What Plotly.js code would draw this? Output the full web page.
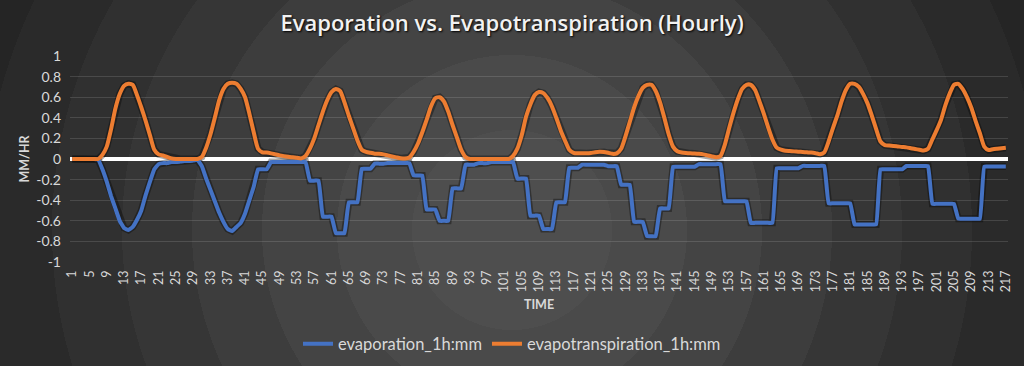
<!DOCTYPE html>
<html>
<head>
<meta charset="utf-8">
<script src="https://cdn.plot.ly/plotly-3.0.1.min.js"></script>
<style>
  html, body { margin: 0; padding: 0; background: #222; }
  #chart {
    width: 1024px; height: 366px;
    background: radial-gradient(circle at 512px 230px,
      #4e4e4e 0px, #4e4e4e 100px,
      #4a4a4a 100px, #4a4a4a 175px,
      #444444 175px, #444444 250px,
      #3d3d3d 250px, #3d3d3d 320px,
      #363636 320px, #363636 390px,
      #303030 390px, #303030 460px,
      #2a2a2a 460px, #2a2a2a 530px,
      #252525 530px, #252525 600px,
      #202020 600px);
  }
</style>
</head>
<body>
<div id="chart"></div>
<script>
// ---- Data (hourly, hours 1..217) ----
const evapotranspiration = [
  0,0,0,0,0,0,0,0.04,0.12,0.29,
  0.49,0.63,0.71,0.73,0.72,0.62,0.5,0.37,0.23,0.09,
  0.045,0.035,0.02,0.005,0,0,0,0,0,0,
  0.02,0.11,0.24,0.4,0.57,0.68,0.73,0.74,0.73,0.68,
  0.6,0.44,0.26,0.1,0.065,0.062,0.055,0.045,0.035,0.028,
  0.022,0.016,0.012,0.006,0.03,0.1,0.2,0.33,0.46,0.57,
  0.65,0.68,0.66,0.55,0.42,0.3,0.18,0.09,0.07,0.06,
  0.052,0.05,0.045,0.035,0.025,0.016,0.008,0.005,0.015,0.07,
  0.15,0.26,0.38,0.51,0.59,0.6,0.56,0.46,0.33,0.21,
  0.09,0.02,0,0,0,0,0,0,0,0,
  0,0,0.03,0.1,0.23,0.41,0.53,0.62,0.65,0.64,
  0.59,0.51,0.4,0.28,0.18,0.09,0.06,0.055,0.055,0.055,
  0.058,0.066,0.07,0.068,0.06,0.05,0.055,0.1,0.22,0.36,
  0.5,0.61,0.69,0.72,0.72,0.66,0.55,0.4,0.24,0.12,
  0.075,0.063,0.058,0.055,0.053,0.05,0.045,0.035,0.025,0.018,
  0.03,0.14,0.3,0.45,0.58,0.68,0.72,0.72,0.67,0.56,
  0.44,0.31,0.19,0.11,0.09,0.08,0.077,0.074,0.071,0.068,
  0.065,0.062,0.056,0.047,0.065,0.17,0.3,0.42,0.56,0.67,
  0.73,0.73,0.7,0.63,0.54,0.42,0.29,0.17,0.135,0.13,
  0.127,0.122,0.117,0.113,0.105,0.097,0.09,0.082,0.1,0.19,
  0.28,0.38,0.52,0.635,0.72,0.73,0.68,0.6,0.5,0.37,
  0.25,0.12,0.087,0.095,0.1,0.105,0.11
];
const evaporation = [
  0,0,0,0,0,0,-0.005,-0.1,-0.22,-0.36,
  -0.48,-0.6,-0.67,-0.69,-0.66,-0.59,-0.5,-0.35,-0.22,-0.1,
  -0.05,-0.04,-0.04,-0.03,-0.03,-0.025,-0.02,-0.02,-0.015,-0.01,
  -0.07,-0.19,-0.3,-0.41,-0.52,-0.61,-0.68,-0.7,-0.66,-0.62,
  -0.53,-0.4,-0.27,-0.1,-0.1,-0.1,-0.03,-0.03,-0.03,-0.03,
  -0.03,-0.03,-0.03,-0.03,-0.03,-0.21,-0.21,-0.21,-0.56,-0.56,
  -0.56,-0.72,-0.72,-0.72,-0.42,-0.42,-0.42,-0.095,-0.095,-0.095,
  -0.045,-0.045,-0.045,-0.04,-0.04,-0.04,-0.04,-0.04,-0.04,-0.16,
  -0.16,-0.16,-0.49,-0.49,-0.49,-0.6,-0.6,-0.6,-0.285,-0.285,
  -0.285,-0.055,-0.055,-0.055,-0.04,-0.04,-0.04,-0.03,-0.03,-0.03,
  -0.03,-0.03,-0.03,-0.19,-0.19,-0.19,-0.55,-0.55,-0.55,-0.68,
  -0.68,-0.68,-0.42,-0.42,-0.42,-0.085,-0.085,-0.085,-0.055,-0.055,
  -0.055,-0.055,-0.055,-0.055,-0.07,-0.07,-0.07,-0.25,-0.25,-0.25,
  -0.61,-0.61,-0.61,-0.75,-0.75,-0.75,-0.48,-0.48,-0.48,-0.075,
  -0.075,-0.075,-0.075,-0.075,-0.075,-0.05,-0.05,-0.05,-0.05,-0.05,
  -0.05,-0.41,-0.41,-0.41,-0.41,-0.41,-0.41,-0.62,-0.62,-0.62,
  -0.62,-0.62,-0.62,-0.09,-0.09,-0.09,-0.09,-0.09,-0.09,-0.067,
  -0.067,-0.067,-0.067,-0.067,-0.067,-0.43,-0.43,-0.43,-0.43,-0.43,
  -0.43,-0.635,-0.635,-0.635,-0.635,-0.635,-0.635,-0.1,-0.1,-0.1,
  -0.1,-0.1,-0.1,-0.068,-0.068,-0.068,-0.068,-0.068,-0.068,-0.435,
  -0.435,-0.435,-0.435,-0.435,-0.435,-0.58,-0.58,-0.58,-0.58,-0.58,
  -0.58,-0.074,-0.074,-0.074,-0.074,-0.074,-0.074
];
const hours = evaporation.map((_, i) => i + 1);
const xTickValues = hours.filter(h => (h - 1) % 4 === 0);
const xTickLabels = xTickValues.map(String);
const yTickValues = [1, 0.8, 0.6, 0.4, 0.2, 0, -0.2, -0.4, -0.6, -0.8, -1];
const yTickLabels = ["1", "0.8", "0.6", "0.4", "0.2", "0", "-0.2", "-0.4", "-0.6", "-0.8", "-1"];
const seriesNames = ["evaporation_1h:mm", "evapotranspiration_1h:mm"];
const chartTitle = "Evaporation vs. Evapotranspiration (Hourly)";
const xTitle = "TIME";
const yTitle = "MM/HR";

const textColor = "#d9d9d9";
const FONT = "Lato, 'Open Sans', sans-serif";

function shadow(y) {
  return { x: hours, y: y, type: "scatter", mode: "lines", showlegend: false, hoverinfo: "skip",
    line: { color: "rgba(0,0,0,0.35)", width: 7, shape: "linear" } };
}

const traces = [
  shadow(evaporation),
  shadow(evapotranspiration),
  { x: hours, y: evaporation, name: seriesNames[0], type: "scatter", mode: "lines",
    line: { color: "#4472C4", width: 4, shape: "spline", smoothing: 0.3 } },
  { x: hours, y: evapotranspiration, name: seriesNames[1], type: "scatter", mode: "lines",
    line: { color: "#ED7D31", width: 4, shape: "spline", smoothing: 0.6 } }
];

const layout = {
  width: 1024, height: 366,
  paper_bgcolor: "rgba(0,0,0,0)", plot_bgcolor: "rgba(0,0,0,0)",
  margin: { l: 70, r: 16, t: 56, b: 104 },
  font: { family: FONT, color: textColor },
  title: {
    text: chartTitle, x: 0.5, xanchor: "center", y: 0.935, yanchor: "middle",
    font: { family: "'Open Sans', sans-serif", size: 22, color: "#f2f2f2", weight: 600, shadow: "1px 1px 2px #000" }
  },
  xaxis: {
    range: [0.5, 217.5], tickmode: "array", tickvals: xTickValues, ticktext: xTickLabels,
    tickangle: -90, tickfont: { size: 12.5, color: textColor, family: FONT },
    ticklabelstandoff: 5,
    showgrid: false, zeroline: false, showline: false, ticks: "",
    title: { text: xTitle, font: { size: 12.5, color: textColor, weight: "bold", family: FONT }, standoff: 8 }
  },
  yaxis: {
    range: [-1, 1], tickmode: "array", tickvals: yTickValues, ticktext: yTickLabels,
    tickfont: { size: 14, color: textColor, family: FONT },
    ticklabelstandoff: 8,
    showgrid: true, gridcolor: "rgba(255,255,255,0.13)", gridwidth: 1,
    zeroline: true, zerolinecolor: "#ffffff", zerolinewidth: 4,
    showline: false, ticks: "",
    title: { text: yTitle, font: { size: 12.5, color: textColor, weight: "bold", family: FONT }, standoff: 3 }
  },
  showlegend: true,
  legend: {
    orientation: "h", xref: "container", yref: "container",
    x: 0.5, xanchor: "center", y: 0.06, yanchor: "middle",
    font: { size: 16.5, color: textColor, family: FONT },
    bgcolor: "rgba(0,0,0,0)", itemwidth: 30
  }
};

Plotly.newPlot("chart", traces, layout, { displayModeBar: false, staticPlot: true });
</script>
</body>
</html>
